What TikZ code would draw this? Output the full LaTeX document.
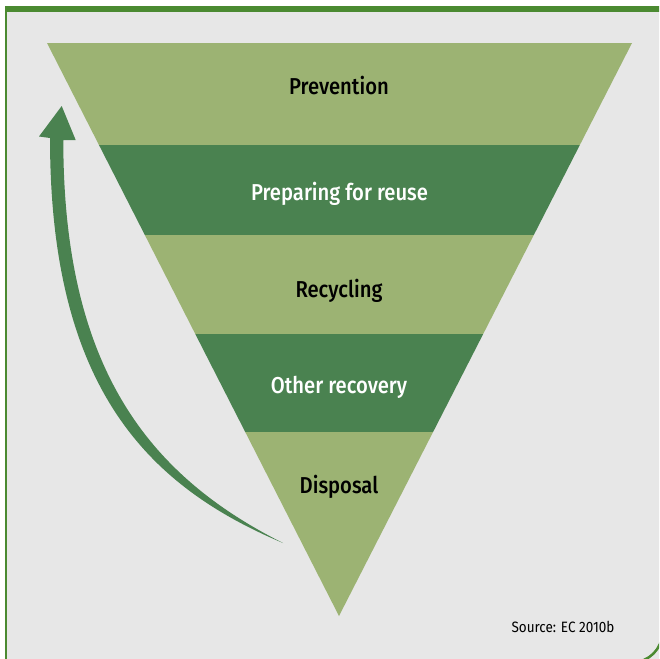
\documentclass[tikz,border=0pt]{standalone}
\usepackage{fontspec}
\setmainfont{Fira Sans}[BoldFont={Fira Sans Medium}]
\definecolor{bggray}{HTML}{E7E7E7}
\definecolor{framegreen}{HTML}{4B8A31}
\definecolor{lightband}{HTML}{9CB373}
\definecolor{darkband}{HTML}{4A8250}
\definecolor{arrowgreen}{HTML}{4A8250}
\tikzset{
  lbl/.style={anchor=base, font=\bfseries\addfontfeatures{FakeStretch=0.88}\fontsize{23}{26}\selectfont},
  lbldark/.style={lbl, text=black},
  lbllight/.style={lbl, text=white},
  src/.style={anchor=base, font=\addfontfeatures{FakeStretch=0.9}\fontsize{15}{18}\selectfont, text=black},
  frameline/.style={framegreen, line width=2.5pt}
}
\begin{document}
\begin{tikzpicture}[x=1pt,y=-1pt]
\useasboundingbox (0,0) rectangle (659,659);
\fill[white] (0,0) rectangle (659,659);
% frame
\begin{scope}
\clip (0,0) rectangle (659,659);
\fill[bggray] (6,9) rectangle (660,660);
\draw[frameline] (6.2,700) -- (6.2,9);
\draw[frameline] (662.3,400) [rounded corners=30pt] -- (662.3,662.3) -- (400,662.3);
\fill[framegreen] (5,6) rectangle (660,12);
\end{scope}
% triangle bands
\coordinate (tl) at (47,43);
\coordinate (tr) at (632,43);
\coordinate (ap) at (339,616);
\begin{scope}
\clip (tl) -- (tr) -- (ap) -- cycle;
\fill[lightband] (0,43) rectangle (659,145);
\fill[darkband] (0,145) rectangle (659,235);
\fill[lightband] (0,235) rectangle (659,334);
\fill[darkband] (0,334) rectangle (659,432);
\fill[lightband] (0,432) rectangle (659,620);
\end{scope}
% labels
\node[lbldark] (prev) at (339,94) {Prevention};
\node[lbllight] (prep) at (339.5,200) {Preparing for reuse};
\node[lbldark] (recy) at (339,297) {Recycling};
\node[lbllight] (other) at (339,393) {Other recovery};
\node[lbldark] (disp) at (339,493) {Disposal};
% arrow
\coordinate (atip) at (61.7,106);
\coordinate (tail) at (283,543);
\fill[arrowgreen] (50,138) .. controls (50,385) and (145,485) .. (tail)
  .. controls (150,476) and (63.3,370) .. (63.3,140)
  -- (75.7,140) -- (atip) -- (39,136.5) -- cycle;
% source
\node[src] (source) at (563,632) {Source: EC 2010b};
\end{tikzpicture}
\end{document}
